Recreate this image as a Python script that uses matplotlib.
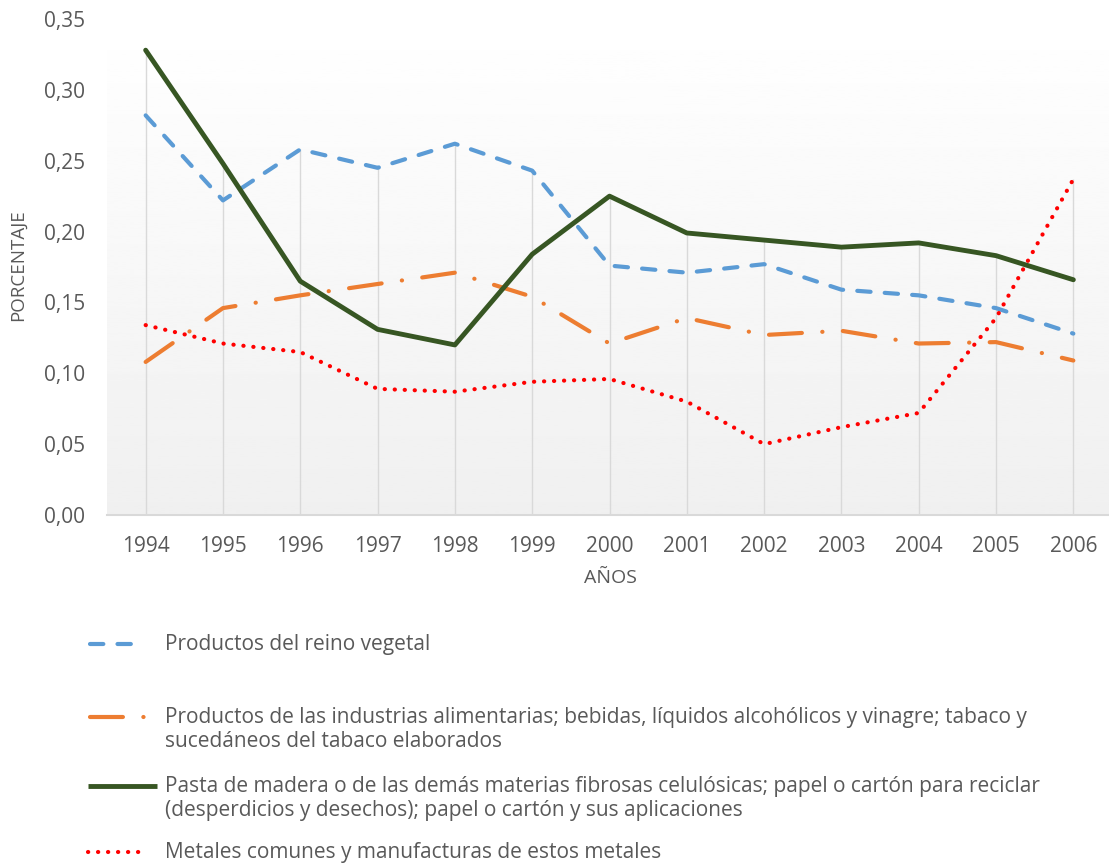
import numpy as np
import matplotlib
matplotlib.use("Agg")
import matplotlib.pyplot as plt
from matplotlib.lines import Line2D
from matplotlib.ticker import FuncFormatter

# ----------------------------------------------- DATA -------------------------------------------------#
years = [1994, 1995, 1996, 1997, 1998, 1999, 2000, 2001, 2002, 2003, 2004, 2005, 2006]
vegetal = [0.282, 0.222, 0.258, 0.245, 0.262, 0.243, 0.176, 0.171, 0.177, 0.159, 0.155, 0.146, 0.128]
alimentarias = [0.108, 0.146, 0.155, 0.163, 0.171, 0.154, 0.121, 0.139, 0.127, 0.130, 0.121, 0.122, 0.109]
pasta_madera = [0.328, 0.248, 0.165, 0.131, 0.120, 0.184, 0.225, 0.199, 0.194, 0.189, 0.192, 0.183, 0.166]
metales = [0.134, 0.121, 0.115, 0.089, 0.087, 0.094, 0.096, 0.080, 0.050, 0.062, 0.072, 0.139, 0.237]

labels = [
    "Productos del reino vegetal",
    "Productos de las industrias alimentarias; bebidas, líquidos alcohólicos y vinagre; tabaco y\nsucedáneos del tabaco elaborados",
    "Pasta de madera o de las demás materias fibrosas celulósicas; papel o cartón para reciclar\n(desperdicios y desechos); papel o cartón y sus aplicaciones",
    "Metales comunes y manufacturas de estos metales",
]
y_ticks = [0.00, 0.05, 0.10, 0.15, 0.20, 0.25, 0.30, 0.35]

# ----------------------------------------------- STYLE -------------------------------------------------#
plt.rcParams['font.family'] = ['Open Sans', 'DejaVu Sans']
TXT = "#595959"
GRID = "#d9d9d9"
W, H = 1109, 863
X0, X1 = years[0] - 0.5, years[-1] + 0.5

styles = [
    dict(color="#5B9BD5", lw=3, dashes=(3.2, 3.4)),
    dict(color="#ED7D31", lw=3, dashes=(7.9, 4.9, 0.05, 4.9)),
    dict(color="#375623", lw=3.5),
    dict(color="#FF0000", lw=3, dashes=(0.05, 2.35)),
]
series = [vegetal, alimentarias, pasta_madera, metales]

fig = plt.figure(figsize=(W / 100, H / 100), dpi=100)
ax = fig.add_axes([107 / W, 1 - 515 / H, (1112 - 107) / W, (515 - 19) / H])

# gradient plot background
grad = np.linspace(1.0, 0.94, 256).reshape(-1, 1)
ax.imshow(grad, cmap="gray", vmin=0, vmax=1, aspect="auto",
          extent=[X0, X1, 0, 0.35], zorder=0)

# drop lines from highest value down to the axis
tops = np.max(np.array(series), axis=0)
ax.vlines(years, 0, tops, color=GRID, lw=1, zorder=1)

for vals, st in zip(series, styles):
    ax.plot(years, vals, solid_capstyle="round", dash_capstyle="round",
            solid_joinstyle="round", zorder=3, **st)

ax.set_xlim(X0, X1)
ax.set_ylim(0, 0.35)
ax.set_xticks(years)
ax.set_yticks(y_ticks)
ax.yaxis.set_major_formatter(FuncFormatter(lambda v, p: f"{v:.2f}".replace(".", ",")))
ax.tick_params(axis="both", length=0, labelsize=15, labelcolor=TXT)
ax.tick_params(axis="y", pad=16)
ax.tick_params(axis="x", pad=15)
for s in ["top", "right", "left"]:
    ax.spines[s].set_visible(False)
ax.spines["bottom"].set_color(GRID)
ax.spines["bottom"].set_linewidth(1.5)

fig.text(610 / W, 1 - 578 / H, "AÑOS", ha="center", va="center", fontsize=14, color=TXT)
fig.text(18 / W, 1 - 265 / H, "PORCENTAJE", ha="center", va="center", rotation=90,
         fontsize=13.5, color=TXT)

# ----------------------------------------------- LEGEND -------------------------------------------------#
leg_y = [644, 717, 786, 852]
handle_x = [(90, 140), (90, 150), (88, 157), (88, 142)]
for lab, st, y0, (x0, x1) in zip(labels, styles, leg_y, handle_x):
    fig.add_artist(Line2D([x0 / W, x1 / W], [1 - y0 / H, 1 - y0 / H], transform=fig.transFigure,
                          solid_capstyle="butt", dash_capstyle="round", **st))
    for i, line in enumerate(lab.split("\n")):
        fig.text(165 / W, 1 - (y0 + 24 * i) / H, line, ha="left", va="center",
                 fontsize=15, color=TXT)

fig.savefig("out.png", dpi=100)
